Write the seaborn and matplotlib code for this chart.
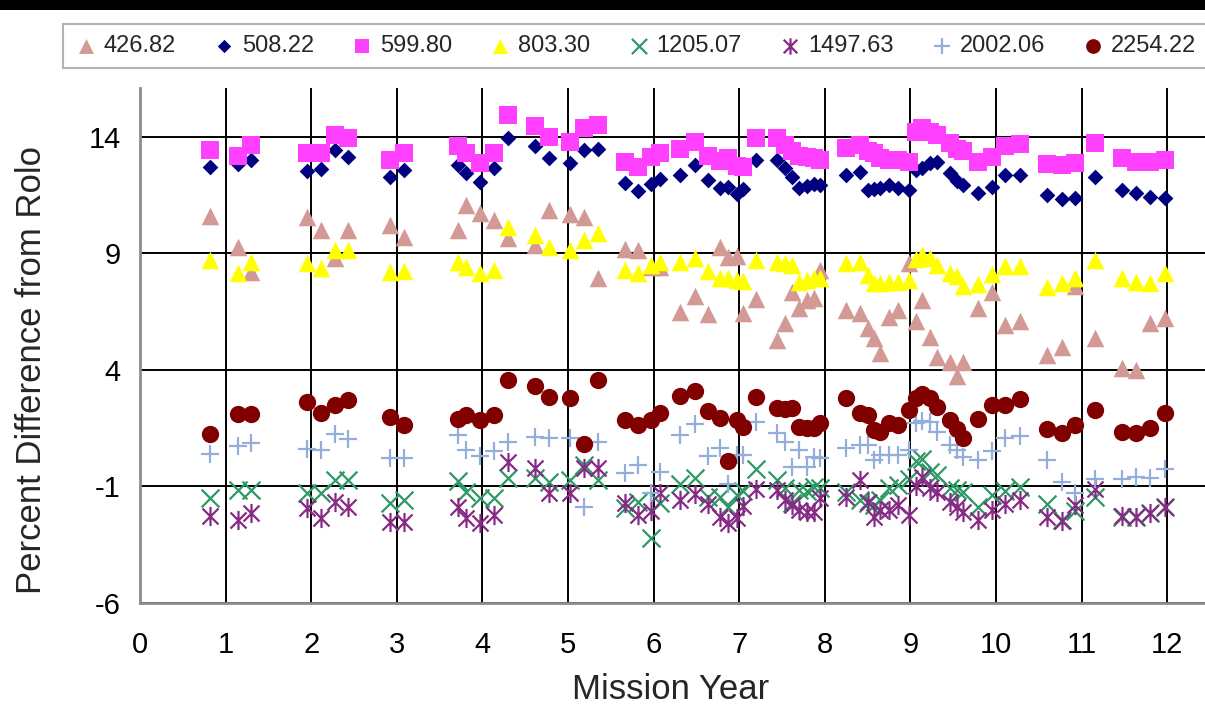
import matplotlib
matplotlib.use("Agg")
import matplotlib.pyplot as plt
from matplotlib.path import Path
from matplotlib.patches import Rectangle
import seaborn as sns

# Observation times (mission year)
years = [0.82, 1.14, 1.30, 1.95, 2.11, 2.28, 2.43, 2.92, 3.08, 3.72, 3.81, 3.97, 4.14, 4.30, 4.61, 4.78, 5.02, 5.19, 5.35, 5.67, 5.82,
         5.97, 6.07, 6.31, 6.48, 6.64, 6.78, 6.87, 6.97, 7.05, 7.20, 7.44, 7.54, 7.62, 7.70, 7.79, 7.87, 7.94,
         8.25, 8.41, 8.51, 8.58, 8.65, 8.75, 8.85,
         8.98, 9.06, 9.14, 9.23, 9.31, 9.46, 9.54, 9.62, 9.79, 9.95, 10.10, 10.28,
         10.59, 10.77, 10.92, 11.16, 11.47, 11.64, 11.80, 11.97]

# Percent difference from ROLO for each band (nm)
b426 = [10.62, 9.29, 8.22, 10.58, 10.00, 8.79, 10.00, 10.22, 9.72, 10.00, 11.08, 10.72, 10.44, 9.65, 9.36, 10.87, 10.68, 10.58, 7.93, 9.19, 9.15,
        8.40, 8.40, 6.50, 7.18, 6.40, 9.26, 8.85, 8.90, 6.45, 7.05, 5.30, 6.00, 7.36, 6.65, 7.00, 7.07, 8.29,
        6.57, 6.43, 5.79, 5.36, 4.71, 6.29, 6.57,
        8.60, 6.10, 7.00, 5.43, 4.57, 4.36, 3.75, 4.36, 6.65, 7.36, 5.93, 6.10,
        4.64, 5.00, 7.60, 5.36, 4.07, 4.00, 6.00, 6.22]
b508 = [12.73, 12.85, 13.01, 12.54, 12.63, 13.44, 13.16, 12.30, 12.58, 12.80, 12.44, 12.08, 12.66, 13.97, 13.59, 13.08, 12.87, 13.44, 13.48, 12.01, 11.68,
        12.00, 12.18, 12.38, 12.80, 12.15, 11.80, 11.85, 11.55, 11.75, 13.03, 13.00, 12.65, 12.30, 11.80, 11.90, 12.00, 11.94,
        12.37, 12.51, 11.72, 11.75, 11.80, 11.94, 11.80,
        11.73, 12.60, 12.66, 12.90, 12.94, 12.44, 12.10, 11.94, 11.58, 11.87, 12.37, 12.37,
        11.51, 11.33, 11.37, 12.30, 11.73, 11.58, 11.44, 11.37]
b600 = [13.44, 13.18, 13.66, 13.30, 13.30, 14.09, 13.94, 13.01, 13.30, 13.59, 13.30, 12.87, 13.30, 14.92, 14.49, 14.01, 13.80, 14.37, 14.52, 12.94, 12.73,
        13.15, 13.30, 13.47, 13.80, 13.20, 12.97, 13.10, 12.75, 12.73, 13.97, 13.94, 13.66, 13.40, 13.20, 13.15, 13.08, 13.00,
        13.51, 13.65, 13.40, 13.30, 13.08, 13.01, 13.01,
        12.94, 14.20, 14.37, 14.20, 14.08, 13.73, 13.50, 13.40, 12.94, 13.15, 13.62, 13.70,
        12.83, 12.80, 12.90, 13.73, 13.08, 12.94, 12.94, 13.01]
b803 = [8.72, 8.15, 8.65, 8.58, 8.36, 9.15, 9.15, 8.22, 8.25, 8.65, 8.43, 8.15, 8.29, 10.15, 9.79, 9.29, 9.15, 9.58, 9.87, 8.29, 8.15,
        8.50, 8.65, 8.62, 8.82, 8.25, 7.95, 7.95, 7.86, 7.80, 8.72, 8.65, 8.58, 8.50, 7.79, 7.86, 7.93, 7.93,
        8.58, 8.65, 8.08, 7.72, 7.72, 7.79, 7.79,
        7.85, 8.75, 8.93, 8.79, 8.50, 8.15, 8.04, 7.60, 7.70, 8.10, 8.47, 8.47,
        7.57, 7.72, 7.93, 8.72, 7.93, 7.79, 7.72, 8.15]
b1205 = [-1.51, -1.15, -1.15, -1.29, -1.29, -0.72, -0.72, -1.72, -1.58, -0.76, -1.22, -1.51, -1.51, -0.65, -0.65, -0.79, -0.72, -0.08, -0.72, -1.94, -1.65,
         -3.22, -1.72, -0.90, -0.65, -1.45, -1.45, -1.90, -1.36, -1.20, -0.25, -0.72, -1.08, -1.72, -1.15, -1.20, -1.01, -1.08,
         -1.22, -1.58, -1.72, -1.79, -1.60, -1.08, -0.94,
         -0.70, 0.10, 0.20, -0.36, -0.50, -1.08, -1.15, -1.22, -1.87, -1.37, -1.18, -1.01,
         -1.75, -2.44, -2.04, -1.45, -2.30, -2.30, -2.15, -1.87]
b1498 = [-2.25, -2.44, -2.15, -1.94, -2.37, -1.65, -1.87, -2.51, -2.51, -1.87, -2.37, -2.58, -2.22, 0.07, -0.22, -1.29, -1.29, -0.22, -0.22, -1.72, -2.22,
         -2.05, -1.30, -1.58, -1.33, -1.75, -2.30, -2.58, -2.37, -1.85, -1.10, -1.15, -1.58, -1.80, -2.01, -2.08, -2.08, -1.51,
         -1.44, -0.72, -1.65, -2.29, -2.01, -2.01, -1.80,
         -2.22, -1.00, -0.60, -1.08, -1.25, -1.65, -1.90, -2.10, -2.45, -2.01, -1.76, -1.60,
         -2.33, -2.47, -1.80, -1.10, -2.25, -2.30, -2.15, -1.87]
b2002 = [0.39, 0.75, 0.85, 0.61, 0.57, 1.24, 1.04, 0.22, 0.22, 1.21, 0.58, 0.29, 0.51, 0.92, 1.14, 1.10, 1.10, -1.87, 0.92, -0.44, -0.08,
         -1.30, -0.36, 1.21, 1.68, 0.30, 0.64, -0.90, 0.35, 0.35, 1.75, 1.28, 0.92, -0.15, 0.57, -0.15, 0.28, 0.21,
         0.64, 0.78, 0.78, 0.14, 0.35, 0.35, 0.35,
         0.57, 1.71, 1.80, 1.78, 1.35, 0.80, 0.55, 0.28, 0.14, 0.53, 1.10, 1.17,
         0.14, -0.80, -1.30, -0.68, -0.70, -0.60, -0.65, -0.25]
b2254 = [1.24, 2.11, 2.11, 2.64, 2.14, 2.50, 2.71, 2.00, 1.64, 1.90, 2.07, 1.85, 2.07, 3.57, 3.31, 2.86, 2.81, 0.82, 3.57, 1.85, 1.64,
         1.85, 2.17, 2.90, 3.10, 2.24, 1.94, 0.10, 1.85, 1.55, 2.83, 2.36, 2.31, 2.36, 1.57, 1.50, 1.50, 1.71,
         2.78, 2.14, 2.07, 1.42, 1.35, 1.71, 1.64,
         2.28, 2.80, 2.95, 2.78, 2.40, 1.85, 1.45, 1.10, 1.88, 2.50, 2.50, 2.75,
         1.47, 1.28, 1.64, 2.28, 1.35, 1.28, 1.50, 2.14]

band_labels = ["426.82", "508.22", "599.80", "803.30", "1205.07", "1497.63", "2002.06", "2254.22"]
x_ticks = [0, 1, 2, 3, 4, 5, 6, 7, 8, 9, 10, 11, 12]
y_ticks = [-6, -1, 4, 9, 14]

# Asterisk-like marker: an "x" with a vertical stroke through it
asterisk = Path([(-1, -1), (1, 1), (-1, 1), (1, -1), (0, -1.2), (0, 1.2)],
                [Path.MOVETO, Path.LINETO, Path.MOVETO, Path.LINETO, Path.MOVETO, Path.LINETO])

styles = [
    (b426, "#D39A95", "^", 160, True),
    (b508, "#000080", "D", 64, True),
    (b600, "#FF40FF", "s", 150, True),
    (b803, "#FFFF00", "^", 160, True),
    (b1205, "#2E9966", "x", 165, False),
    (b1498, "#862A86", asterisk, 190, False),
    (b2002, "#94AEDB", "+", 175, False),
    (b2254, "#800000", "o", 155, True),
]

sns.set_style("white")
plt.rcParams["font.family"] = ["Liberation Sans", "DejaVu Sans"]

fig = plt.figure(figsize=(12.05, 7.20), dpi=100)
fig.patch.set_facecolor("white")
fig.patches.append(Rectangle((0, 1 - 10 / 720), 1, 10 / 720, transform=fig.transFigure,
                             facecolor="black", edgecolor="none", zorder=10))

ax = fig.add_axes([140 / 1205, (720 - 603) / 720, (1205 - 140) / 1205, (603 - 88) / 720])

for vals, color, marker, size, filled in styles:
    kw = dict(x=years, y=vals, ax=ax, marker=marker, s=size, color=color, legend=False, zorder=3)
    if filled:
        kw.update(edgecolor=color, linewidth=0)
    else:
        kw.update(edgecolor=color, linewidth=1.6)
    sns.scatterplot(**kw)

ax.set_xlim(0, (1205 - 140) / 85.6)
ax.set_ylim(-6, 16.1)
ax.set_xticks(x_ticks)
ax.set_yticks(y_ticks)
ax.set_xticklabels([str(t) for t in x_ticks])
ax.set_yticklabels([str(t) for t in y_ticks])
ax.grid(True, color="black", linewidth=1.4, zorder=0)
ax.set_axisbelow(True)
ax.tick_params(axis="both", labelsize=21, colors="#8C8C8C", length=6, width=1.2, direction="out")
ax.tick_params(axis="both", labelcolor="black")
ax.tick_params(axis="x", pad=14)
ax.tick_params(axis="y", pad=8)
for side in ["top", "right"]:
    ax.spines[side].set_visible(False)
for side in ["left", "bottom"]:
    ax.spines[side].set_color("#8C8C8C")
    ax.spines[side].set_linewidth(2)
ax.set_xlabel("Mission Year", fontsize=25)
ax.set_ylabel("Percent Difference from Rolo", fontsize=25)
ax.xaxis.set_label_coords(0.498, -0.135)
ax.yaxis.set_label_coords(-0.086, 0.452)

handles = ax.collections[:len(band_labels)]
leg = fig.legend(handles, band_labels, loc="center", bbox_to_anchor=(0.527, 1 - 46 / 720), ncol=8,
                 fontsize=17, frameon=True, fancybox=False, edgecolor="#A0A0A0", handlelength=1.0,
                 handletextpad=0.25, columnspacing=1.55, markerscale=0.85, borderpad=0.45,
                 borderaxespad=0)
leg.get_frame().set_linewidth(1.5)

fig.savefig("out.png", dpi=100, facecolor="white")
